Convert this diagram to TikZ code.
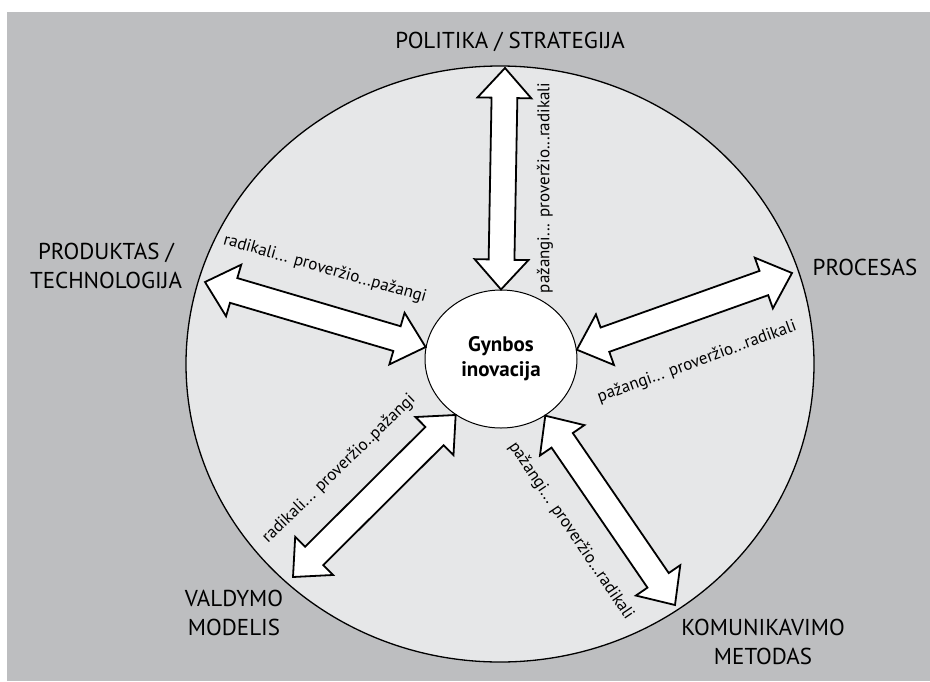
\documentclass[tikz,border=0pt]{standalone}
\usepackage{fontspec}
\setmainfont{PT Sans}
\usetikzlibrary{shapes.geometric, shapes.arrows, calc, positioning}

\definecolor{bggray}{RGB}{189,190,192}
\definecolor{discgray}{RGB}{230,231,232}

% double block arrow between two named points
\newcommand{\twoway}[2]{%
  \path let \p1=($(#2)-(#1)$) in
    node[flow, minimum height={veclen(\x1,\y1)}, rotate={atan2(\y1,\x1)}] at ($(#1)!0.5!(#2)$) {};}

\begin{document}
\begin{tikzpicture}[
        x=1pt, y=-1pt,
        flow/.style={double arrow, draw=black, fill=white, line width=1.8pt, inner xsep=0pt, inner ysep=12pt,
            double arrow head extend=14pt, double arrow tip angle=84},
        topic/.style={align=center, font=\fontsize{23}{29}\selectfont},
        spanlabel/.style={font=\fontsize{17}{20}\selectfont}
    ]
        \useasboundingbox (0,0) rectangle (930,681);
        \fill[bggray] (7,12) rectangle (930,681);

        % Nodes
        \node [ellipse, draw, fill=discgray, line width=1.3pt, minimum width=628pt, minimum height=596pt, inner sep=0pt] (disc) at (500,364) {};
        \node [ellipse, draw, fill=white, line width=1pt, minimum width=152pt, minimum height=138pt, inner sep=0pt, align=center,
            font=\bfseries\fontsize{21}{25}\selectfont] (core) at (501,359) {Gynbos\\inovacija};

        \node [topic] (politika) at (510,42) {POLITIKA / STRATEGIJA};
        \node [topic] (produktas) at (106,266) {PRODUKTAS /\\TECHNOLOGIJA};
        \node [topic] (procesas) at (865,267) {PROCESAS};
        \node [topic] (valdymas) at (234,613) {VALDYMO\\MODELIS};
        \node [topic] (komunikavimas) at (763,642) {KOMUNIKAVIMO\\METODAS};

        \coordinate (politip) at (505,68);
        \coordinate (prodtip) at (205,282);
        \coordinate (proctip) at (792,273);
        \coordinate (valdtip) at (293,577);
        \coordinate (komutip) at (675,605);

        % Edges
        \twoway{core.90}{politip}
        \twoway{core.171}{prodtip}
        \twoway{core.7}{proctip}
        \twoway{core.231}{valdtip}
        \twoway{core.308}{komutip}

        % Span labels
        \node [spanlabel, rotate=90] (polspan) at (545,188) {pažangi... proveržio...radikali};
        \node [spanlabel, rotate=-16] (prodspan) at (325,269) {radikali... proveržio...pažangi};
        \node [spanlabel, rotate=20] (procspan) at (697,362) {pažangi... proveržio...radikali};
        \node [spanlabel, rotate=44] (valdspan) at (339,469) {radikali... proveržio..pažangi};
        \node [spanlabel, rotate=-56] (komuspan) at (571,531) {pažangi... proveržio...radikali};
    \end{tikzpicture}
\end{document}
